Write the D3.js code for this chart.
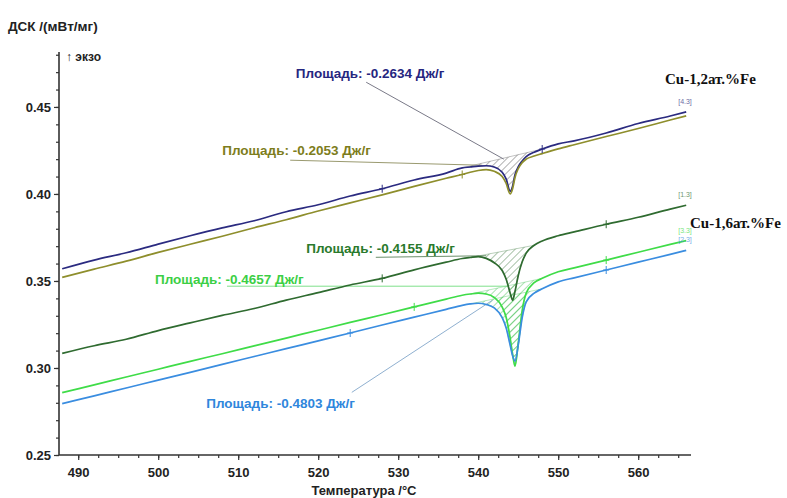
<!DOCTYPE html>
<html>
<head>
<meta charset="utf-8">
<script src="https://cdn.jsdelivr.net/npm/d3@7"></script>
<style>
  body { margin: 0; background: #fff; }
  svg { display: block; font-family: "Liberation Sans", Arial, sans-serif; }
</style>
</head>
<body>
<svg id="chart" width="787" height="498"></svg>
<script>
// temperature grid, °C
const temps = [488, 492, 496, 500, 504, 508, 512, 516, 520, 524, 528, 532, 536, 538, 539, 540, 541, 542, 543,
  543.5, 544, 544.3, 544.6, 545, 545.5, 546, 547, 548, 550, 552, 556, 560, 564, 566];

// DSC signal, mW/mg
const navyVals = [0.3570, 0.3620, 0.3662, 0.3712, 0.3760, 0.3805, 0.3846, 0.3898, 0.3938, 0.3988, 0.4030, 0.4080, 0.4120, 0.4150, 0.4155, 0.4160, 0.4162, 0.4155, 0.4125,
  0.4085, 0.4015, 0.4045, 0.4110, 0.4155, 0.4190, 0.4215, 0.4240, 0.4258, 0.4288, 0.4305, 0.4350, 0.4405, 0.4448, 0.4472];
const oliveVals = [0.3521, 0.3568, 0.3614, 0.3664, 0.3711, 0.3757, 0.3806, 0.3852, 0.3902, 0.3949, 0.3995, 0.4044, 0.4090, 0.4112, 0.4125, 0.4135, 0.4140, 0.4130, 0.4100,
  0.4060, 0.4000, 0.4030, 0.4095, 0.4145, 0.4180, 0.4200, 0.4218, 0.4232, 0.4259, 0.4283, 0.4330, 0.4376, 0.4425, 0.4449];
const darkGreenVals = [0.3084, 0.3128, 0.3165, 0.3215, 0.3259, 0.3302, 0.3342, 0.3390, 0.3433, 0.3477, 0.3515, 0.3564, 0.3608, 0.3629, 0.3635, 0.3640, 0.3630, 0.3605, 0.3560,
  0.3510, 0.3430, 0.3390, 0.3440, 0.3530, 0.3610, 0.3660, 0.3705, 0.3730, 0.3760, 0.3782, 0.3826, 0.3866, 0.3913, 0.3935];
const lightGreenVals = [0.2858, 0.2903, 0.2948, 0.2993, 0.3038, 0.3082, 0.3127, 0.3172, 0.3217, 0.3262, 0.3306, 0.3351, 0.3396, 0.3418, 0.3425, 0.3430, 0.3425, 0.3405, 0.3350,
  0.3290, 0.3170, 0.3080, 0.3010, 0.3140, 0.3330, 0.3430, 0.3490, 0.3515, 0.3553, 0.3575, 0.3620, 0.3665, 0.3710, 0.3732];
const blueVals = [0.2795, 0.2840, 0.2885, 0.2930, 0.2975, 0.3021, 0.3066, 0.3111, 0.3156, 0.3201, 0.3247, 0.3292, 0.3337, 0.3360, 0.3368, 0.3372, 0.3365, 0.3345, 0.3290,
  0.3230, 0.3130, 0.3070, 0.3040, 0.3130, 0.3290, 0.3380, 0.3430, 0.3455, 0.3495, 0.3518, 0.3563, 0.3608, 0.3653, 0.3676];

const seriesTags = ["[4.3]", "", "[1.3]", "[3.3]", "[2.3]"];
const peakLimits = [[538, 548], null, [539, 547], [539, 548], [539, 548]];
const markerTemps = [[528, 548], [538], [528, 556], [532, 556], [524, 556]];

const areaTexts = ["Площадь: -0.2634 Дж/г", "Площадь: -0.2053 Дж/г", "Площадь: -0.4155 Дж/г",
  "Площадь: -0.4657 Дж/г", "Площадь: -0.4803 Дж/г"];

const xMajor = [490, 500, 510, 520, 530, 540, 550, 560];
const yMajor = [0.25, 0.30, 0.35, 0.40, 0.45];

const colors = ["#2b2b80", "#8e8e2c", "#2f6b30", "#3fdc48", "#3a8de0"];
const textColors = ["#262680", "#7d7d1c", "#2a7a2c", "#3ccf45", "#2f86dc"];
const hatchColors = ["#555", null, "#3f7a40", "#3fc050", "#3fc050"];

const svg = d3.select("#chart");
const x = d3.scaleLinear().domain([487.6, 566.6]).range([59, 691]);
const y = d3.scaleLinear().domain([0.25, 0.481]).range([455, 53]);

const allVals = [navyVals, oliveVals, darkGreenVals, lightGreenVals, blueVals];
const series = allVals.map((vals, i) => ({
  i, color: colors[i], tag: seriesTags[i],
  pts: temps.map((t, k) => ({ t, v: vals[k] }))
}));

const line = d3.line().x(d => x(d.t)).y(d => y(d.v)).curve(d3.curveMonotoneX);

// hatch patterns
const defs = svg.append("defs");
hatchColors.forEach((c, i) => {
  if (!c) return;
  const p = defs.append("pattern").attr("id", "hatch" + i)
    .attr("patternUnits", "userSpaceOnUse").attr("width", 5).attr("height", 5)
    .attr("patternTransform", "rotate(45)");
  p.append("line").attr("x1", 0).attr("y1", 0).attr("x2", 0).attr("y2", 5)
    .attr("stroke", c).attr("stroke-width", 0.9);
});

// axes
const axisColor = "#333";
const xAxis = svg.append("g").attr("transform", "translate(0,455)");
xAxis.call(d3.axisBottom(x).tickValues(d3.range(490, 566, 2.5)).tickSize(3).tickFormat(""));
xAxis.append("g").call(d3.axisBottom(x).tickValues(xMajor).tickSize(5).tickFormat(d3.format("d")));
xAxis.selectAll(".domain").remove();
xAxis.selectAll("line").attr("stroke", axisColor).attr("stroke-width", 1.2);
xAxis.selectAll("text").attr("font-size", 13).attr("font-weight", "bold").attr("fill", "#222")
  .attr("font-family", "Liberation Sans, Arial, sans-serif").attr("dy", "1.05em");

const yAxis = svg.append("g").attr("transform", "translate(59,0)");
yAxis.call(d3.axisLeft(y).tickValues(d3.range(0.25, 0.4805, 0.01)).tickSize(3).tickFormat(""));
yAxis.append("g").call(d3.axisLeft(y).tickValues(yMajor).tickSize(5).tickFormat(d3.format(".2f")));
yAxis.selectAll(".domain").remove();
yAxis.selectAll("line").attr("stroke", axisColor).attr("stroke-width", 1.2);
yAxis.selectAll("text").attr("font-size", 13).attr("font-weight", "bold").attr("fill", "#222")
  .attr("font-family", "Liberation Sans, Arial, sans-serif").attr("x", -8);

svg.append("line").attr("x1", 59).attr("x2", 59).attr("y1", 52).attr("y2", 455)
  .attr("stroke", axisColor).attr("stroke-width", 1.6);
svg.append("line").attr("x1", 59).attr("x2", 691).attr("y1", 455).attr("y2", 455)
  .attr("stroke", axisColor).attr("stroke-width", 1.6);

svg.append("text").attr("x", 8).attr("y", 31).attr("font-size", 13.5).attr("font-weight", "bold")
  .attr("fill", "#222").text("ДСК /(мВт/мг)");
svg.append("text").attr("x", 66).attr("y", 61).attr("font-size", 12).attr("font-weight", "bold")
  .attr("fill", "#222").text("↑ экзо");
svg.append("text").attr("x", 364).attr("y", 495).attr("text-anchor", "middle").attr("font-size", 13)
  .attr("font-weight", "bold").attr("fill", "#222").text("Температура /°C");

// hatched peak areas
series.forEach(s => {
  const lim = peakLimits[s.i];
  if (!lim) return;
  const seg = s.pts.filter(d => d.t >= lim[0] && d.t <= lim[1]);
  svg.append("path").attr("d", line(seg) + "Z")
    .attr("fill", `url(#hatch${s.i})`).attr("stroke", hatchColors[s.i]).attr("stroke-width", 0.6)
    .attr("stroke-opacity", 0.6);
});

// annotation leader lines (data coords: label anchor, line start, line end)
const annLabel = [[517.2, 0.4665], [508.0, 0.4222], [518.5, 0.3659], [499.6, 0.3485], [506.0, 0.2768]];
const annFrom = [[526.0, 0.4642], [516.5, 0.4194], [527.2, 0.3636], [508.6, 0.3470], [524.2, 0.2860]];
const annTo = [[543.2, 0.4200], [540.5, 0.4165], [541.0, 0.3645], [543.8, 0.3470], [541.8, 0.3390]];
const leaderColors = ["#7a7a88", "#9a9a70", "#6b8f6b", "#7ee08a", "#8fb0d0"];

annLabel.forEach((p, i) => {
  svg.append("line")
    .attr("x1", x(annFrom[i][0])).attr("y1", y(annFrom[i][1]))
    .attr("x2", x(annTo[i][0])).attr("y2", y(annTo[i][1]))
    .attr("stroke", leaderColors[i]).attr("stroke-width", 1);
});

// curves
series.forEach(s => {
  svg.append("path").datum(s.pts).attr("d", line)
    .attr("fill", "none").attr("stroke", s.color).attr("stroke-width", 1.7);
});

// "+" markers at integration limits
series.forEach(s => {
  markerTemps[s.i].forEach(t => {
    const d = s.pts.find(p => p.t === t);
    const cx = x(d.t), cy = y(d.v);
    svg.append("path").attr("d", `M${cx - 3},${cy}H${cx + 3}M${cx},${cy - 4}V${cy + 4}`)
      .attr("stroke", s.color).attr("stroke-width", 1);
  });
});

// end tags
series.forEach(s => {
  if (!s.tag) return;
  const last = s.pts[s.pts.length - 1];
  svg.append("text").attr("x", x(last.t) - 8).attr("y", y(last.v) - 8)
    .attr("font-size", 7).attr("fill", s.color).attr("opacity", 0.7).text(s.tag);
});

// area labels
annLabel.forEach((p, i) => {
  svg.append("text").attr("x", x(p[0])).attr("y", y(p[1]))
    .attr("font-size", 13.5).attr("font-weight", "bold").attr("fill", textColors[i])
    .text(areaTexts[i]);
});

// sample labels
svg.append("text").attr("x", 665).attr("y", 84).attr("font-family", "Liberation Serif, Times New Roman, serif")
  .attr("font-size", 15).attr("font-weight", "bold").attr("fill", "#111").text("Cu-1,2ат.%Fe");
svg.append("text").attr("x", 690).attr("y", 228).attr("font-family", "Liberation Serif, Times New Roman, serif")
  .attr("font-size", 15).attr("font-weight", "bold").attr("fill", "#111").text("Cu-1,6ат.%Fe");
</script>
</body>
</html>
